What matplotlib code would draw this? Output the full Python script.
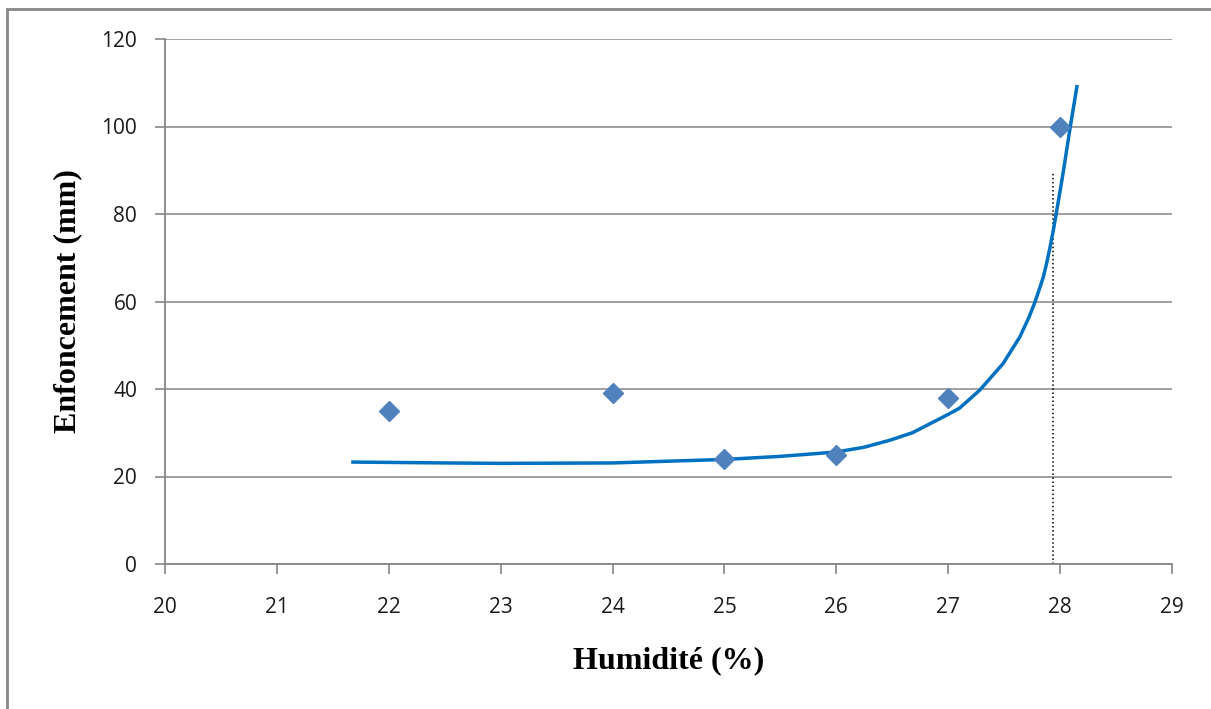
import matplotlib.pyplot as plt
from matplotlib.patches import Rectangle

# measured points
humidite = [22, 24, 25, 26, 27, 28]
enfoncement = [35, 39, 24, 25, 38, 100]

# trend curve
courbe_x = [21.68, 22.5, 23.0, 24.0, 25.0, 25.5, 26.0, 26.25, 26.48, 26.68, 26.84,
            27.0, 27.1, 27.28, 27.49, 27.64, 27.72, 27.77, 27.81, 27.85, 27.88,
            27.91, 27.94, 27.97, 28.0, 28.03, 28.09, 28.15]
courbe_y = [23.3, 23.1, 23.0, 23.1, 23.9, 24.6, 25.6, 26.7, 28.3, 30.0, 32.1,
            34.2, 35.6, 39.7, 45.8, 51.9, 56.3, 59.5, 62.5, 65.6, 68.8,
            72.4, 76.4, 80.8, 85.3, 89.9, 99.8, 109.1]

# dotted marker line
repere_x = [27.94, 27.94]
repere_y = [0, 89.5]

xticks = list(range(20, 30))
yticks = list(range(0, 121, 20))

grey = '#868686'

fig = plt.figure(figsize=(12.11, 7.09), dpi=100)
ax = fig.add_axes([165 / 1211, 1 - 564 / 709, (1172 - 165) / 1211, (564 - 39) / 709])

# chart area border (cut by the image edges on right and bottom)
fig.patches.append(Rectangle((7 / 1211, -0.1), 1.2, 1 - 9 / 709 + 0.1,
                             transform=fig.transFigure, fill=False,
                             edgecolor='#888888', linewidth=2))

ax.plot(courbe_x, courbe_y, color='#0070C0', linewidth=2.5, zorder=3,
        solid_joinstyle='round')
ax.plot(repere_x, repere_y, color='black', linestyle=':', linewidth=1.1, zorder=2)
ax.plot(humidite, enfoncement, linestyle='none', marker='D', markersize=10,
        color='#4F81BD', zorder=4)

ax.set_xlim(20, 29)
ax.set_ylim(0, 120)
ax.set_xticks(xticks)
ax.set_yticks(yticks)
ax.grid(axis='y', color=grey, linewidth=1.1)
ax.set_axisbelow(True)

for side in ['top', 'right']:
    ax.spines[side].set_visible(False)
for side in ['left', 'bottom']:
    ax.spines[side].set_color(grey)
    ax.spines[side].set_linewidth(1.3)

ax.tick_params(axis='y', direction='out', length=7, width=1.2, color=grey,
               pad=13, labelsize=15)
ax.tick_params(axis='x', direction='out', length=7, width=1.2, color=grey,
               pad=17, labelsize=15)
for lab in ax.get_xticklabels() + ax.get_yticklabels():
    lab.set_fontfamily('Open Sans')
    lab.set_color('#1a1a1a')

ax.set_xlabel('Humidité (%)', fontfamily='Liberation Serif', fontweight='bold',
              fontsize=23, labelpad=20)
ax.set_ylabel('Enfoncement (mm)', fontfamily='Liberation Serif', fontweight='bold',
              fontsize=23, labelpad=14)

fig.savefig('out.png', dpi=100)
